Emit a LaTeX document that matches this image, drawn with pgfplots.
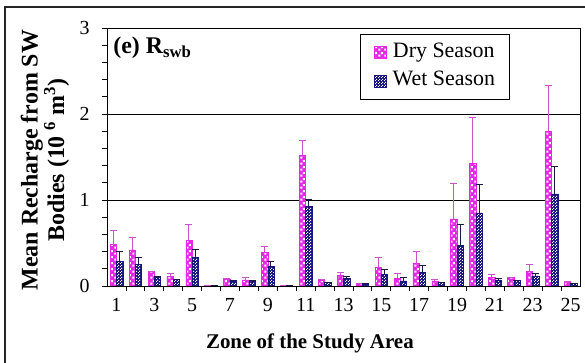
\documentclass[border=0pt]{standalone}
\usepackage{fontspec}
\setmainfont{Liberation Serif}
\usepackage{pgfplots}
\usepackage{pgfplotstable}
\pgfplotsset{compat=1.18}
\usetikzlibrary{patterns,patterns.meta}
\definecolor{drymag}{RGB}{228,40,228}
\definecolor{dryerr}{RGB}{205,80,205}
\definecolor{wetblue}{RGB}{22,22,125}
\definecolor{weterr}{RGB}{25,25,70}
\tikzdeclarepattern{name=bigcheck,type=uncolored,bounding box={(0,0) and (6bp,6bp)},tile size={(6bp,6bp)},code={\fill (0.3bp,0.3bp) rectangle (2.7bp,2.7bp); \fill (3.3bp,3.3bp) rectangle (5.7bp,5.7bp);}}
\tikzdeclarepattern{name=smallcheck,type=uncolored,bounding box={(0,0) and (3bp,3bp)},tile size={(3bp,3bp)},code={\fill (0,0) rectangle (1.2bp,1.2bp); \fill (1.5bp,1.5bp) rectangle (2.7bp,2.7bp);}}
\pgfplotstableread{
zone dry dryerr wet weterr
1 0.48 0.17 0.29 0.11
2 0.42 0.14 0.25 0.08
3 0.17 0.0 0.105 0.0
4 0.11 0.03 0.08 0.0
5 0.53 0.18 0.33 0.09
6 0.01 0.0 0.01 0.0
7 0.075 0.01 0.055 0.005
8 0.07 0.025 0.055 0.005
9 0.39 0.075 0.23 0.06
10 0.0 0.0 0.0 0.0
11 1.52 0.17 0.93 0.08
12 0.07 0.0 0.045 0.0
13 0.125 0.03 0.09 0.015
14 0.03 0.0 0.025 0.0
15 0.22 0.11 0.137 0.06
16 0.09 0.05 0.06 0.04
17 0.26 0.14 0.16 0.075
18 0.06 0.02 0.04 0.0
19 0.78 0.41 0.47 0.24
20 1.43 0.53 0.85 0.33
21 0.10 0.037 0.07 0.016
22 0.10 0.0 0.066 0.0
23 0.17 0.085 0.117 0.03
24 1.80 0.53 1.07 0.32
25 0.05 0.0 0.03 0.0
}\data
\begin{document}
\begin{tikzpicture}
\draw[line width=1.2bp, black!85] (5bp,-20bp) rectangle (620bp,356bp);
\begin{axis}[at={(107bp,77bp)}, anchor=south west, scale only axis,
  width=473bp, height=258bp,
  xmin=0.5, xmax=25.5, ymin=0, ymax=3,
  ybar=0pt, bar width=6.3bp,
  tick pos=left, tick align=outside,
  xtick={1.5,2.5,...,24.5}, xticklabels={},
  extra x ticks={1,3,...,25},
  extra x tick style={major tick length=0pt, tick label style={yshift=-9bp}},
  extra x tick labels={1,3,5,7,9,11,13,15,17,19,21,23,25},
  ytick={0,1,2,3}, minor y tick num=4,
  yticklabel style={xshift=-9bp},
  major tick length=5bp, minor tick length=5bp,
  ymajorgrids, major grid style={black, line width=0.8bp},
  axis line style={line width=0.8bp},
  tick style={black, line width=0.8bp},
  /pgf/number format/assume math mode=true,
  ticklabel style={font=\rmfamily\fontsize{20}{22}\selectfont},
  xlabel={Zone of the Study Area},
  xlabel style={at={(axis description cs:0.429,-0.221)}, anchor=center, font=\rmfamily\fontsize{21}{24}\selectfont\bfseries},
  ylabel={Mean Recharge from SW\\Bodies (10 \textsuperscript{6} m\textsuperscript{3})},
  ylabel style={at={(axis description cs:-0.131,0.488)}, anchor=center, align=center, font=\rmfamily\fontsize{24}{24}\selectfont\bfseries},
  legend image code/.code={\draw[#1] (0bp,-5.85bp) rectangle (11.7bp,5.85bp);},
  legend style={at={(rel axis cs:0.535,0.977)}, anchor=north west, draw=black, line width=0.8bp,
    font=\rmfamily\fontsize{22}{26}\selectfont, inner xsep=14bp, inner ysep=8bp, row sep=8.6bp,
    nodes={inner sep=0pt, text height=15bp, text depth=5bp},
    /tikz/every odd column/.append style={column sep=6bp}},
]
\addplot[fill=drymag, draw=drymag, line width=0.5bp, postaction={pattern=bigcheck, pattern color=white},
  error bars/.cd, y dir=plus, y explicit,
  error bar style={dryerr, line width=1bp},
  error mark options={rotate=90, dryerr, line width=1bp, mark size=3.5bp}]
  table[x=zone, y=dry, y error=dryerr] {\data};
\addlegendentry{Dry Season}
\addplot[fill=wetblue, draw=wetblue, line width=0.5bp, postaction={pattern=smallcheck, pattern color=white},
  error bars/.cd, y dir=plus, y explicit,
  error bar style={weterr, line width=1bp},
  error mark options={rotate=90, weterr, line width=1bp, mark size=3.5bp}]
  table[x=zone, y=wet, y error=weterr] {\data};
\addlegendentry{Wet Season}
\node[anchor=north west, inner sep=0pt, font=\rmfamily\fontsize{24}{26}\selectfont\bfseries] at (rel axis cs:0.013,0.965) {(e) R\textsubscript{swb}};
\end{axis}
\pgfresetboundingbox
\useasboundingbox (0,0) rectangle (585bp,363bp);
\end{tikzpicture}
\end{document}
